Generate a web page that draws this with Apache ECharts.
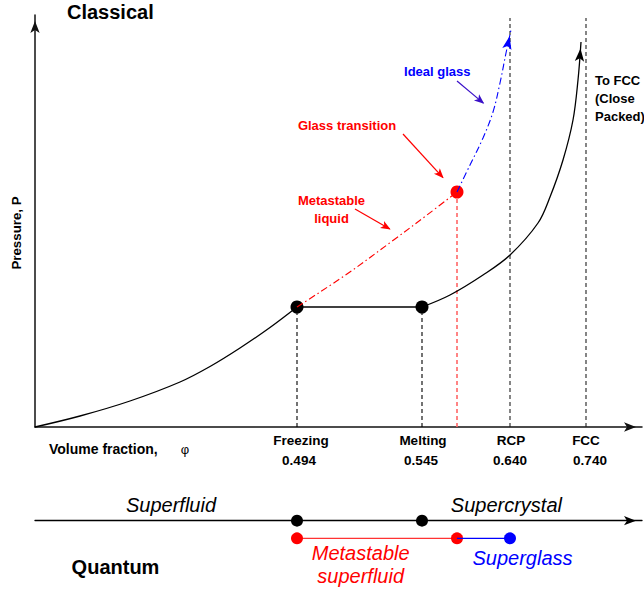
<!DOCTYPE html>
<html><head><meta charset="utf-8">
<script src="https://cdn.jsdelivr.net/npm/echarts@6/dist/echarts.min.js"></script>
<style>html,body{margin:0;padding:0;background:#fff}#c{width:644px;height:591px}</style>
</head><body><div id="c"></div>
<script>
// Schematic units: x = position along the volume-fraction axis, y = pressure (arbitrary units)
const tickNames = ['Freezing', 'Melting', 'RCP', 'FCC'];
const tickValues = ['0.494', '0.545', '0.640', '0.740'];
const tickX = [262, 387, 475, 551];
const glassX = 422;
const glassP = 235;
const coexistP = 120;
const dashTop = 409;
const liquidBranch = [[0,0],[45,11],[95,26],[145,45],[175,60.5],[205,79],[235,99.5],[262,120]];
const coexistence = [[262,120],[387,120]];
const crystalBranch = [[387,120],[415,132],[448,152],[475,172],[503,204],[515,230],[528,267],[538,307],[543,347],[546,385]];
const metastableLiquid = [[262,120],[312,153],[360,188],[392,212],[422,235]];
const idealGlass = [[422,235],[435,262],[448,289],[458,315],[465,344],[471,374],[476,397]];
const arrowGlassTransition = [[368,293],[412,245]];
const arrowMetastable = [[320,218],[360,195]];
const arrowIdeal = [[422,346],[453,320]];
// Quantum line: level 0 = main line, level -1 = lower row
const quantumBlack = [262, 387];
const quantumRed = [262, 422];
const quantumBlue = [422, 475];

const chart = echarts.init(document.getElementById('c'), null, {renderer: 'svg'});
const FONT = '"Liberation Sans", Arial, Helvetica, sans-serif';

function arrowHead(pts, color, w, h, xi) {
  const a = pts[pts.length - 2], b = pts[pts.length - 1];
  const dx = b[0] - a[0], dy = b[1] - a[1], L = Math.hypot(dx, dy);
  return {type: 'scatter', xAxisIndex: xi || 0, yAxisIndex: xi || 0, data: [b], symbol: 'arrow', symbolSize: [w, h],
    symbolRotate: -Math.atan2(dx, dy) * 180 / Math.PI,
    symbolOffset: [-dx / L * h / 2, dy / L * h / 2],
    itemStyle: {color: color, opacity: 1}, z: 8, silent: true, clip: false};
}
function lineS(data, color, width, type, smooth, z) {
  return {type: 'line', data: data, symbol: 'none', smooth: smooth || false,
    lineStyle: {color: color, width: width, type: type || 'solid'}, z: z || 3, silent: true, clip: false};
}
function dots(data, color, size, z, xi) {
  return {type: 'scatter', xAxisIndex: xi || 0, yAxisIndex: xi || 0, data: data, symbol: 'circle', symbolSize: size,
    itemStyle: {color: color, opacity: 1}, z: z, silent: true, clip: false};
}

const series = [];
tickX.forEach((x, i) => {
  series.push(lineS([[x, 0], [x, i < 2 ? coexistP : dashTop]], i < 2 ? '#000' : '#222', 1.1, [4, 3], false, 2));
});
series.push(lineS([[glassX, 0], [glassX, glassP]], '#ff6666', 1.6, [4, 3], false, 2));
series.push(lineS(liquidBranch, '#000', 1.3, 'solid', 0.35, 3));
series.push(lineS(coexistence, '#000', 1.3, 'solid', false, 3));
series.push(lineS(crystalBranch, '#000', 1.3, 'solid', 0.35, 3));
series.push(arrowHead(crystalBranch, '#000', 7, 13));
series.push(dots(tickX.slice(0, 2).map(x => [x, coexistP]), '#000', 13, 5));
series.push(dots([[glassX, glassP]], '#ff0000', 13, 5));
series.push(lineS(metastableLiquid, '#ff0000', 1.1, [7, 3, 1.5, 3], 0.35, 6));
series.push(lineS(idealGlass, '#0000ff', 1.1, [7, 3, 1.5, 3], 0.35, 6));
series.push(arrowHead(idealGlass, '#0000ff', 7, 13));
[[arrowGlassTransition, '#ff0000'], [arrowMetastable, '#ff0000'], [arrowIdeal, '#3a10c8']].forEach(p => {
  const pts = p[0];
  const a = pts[0], b = pts[1], L = Math.hypot(b[0] - a[0], b[1] - a[1]);
  const shaftEnd = [b[0] - (b[0] - a[0]) / L * 6, b[1] - (b[1] - a[1]) / L * 6];
  series.push(lineS([a, shaftEnd], p[1], 1.2, 'solid', false, 7));
  series.push(arrowHead(pts, p[1], 6, 10));
});
// Quantum row
series.push({type: 'line', xAxisIndex: 1, yAxisIndex: 1, data: quantumRed.map(x => [x, -1]), symbol: 'none',
  lineStyle: {color: '#ff3333', width: 1.2}, z: 3, silent: true, clip: false});
series.push(dots(quantumRed.map(x => [x, -1]), '#ff0000', 12, 4, 1));
series.push({type: 'line', xAxisIndex: 1, yAxisIndex: 1, data: quantumBlue.map(x => [x, -1]), symbol: 'none',
  lineStyle: {color: '#0000ff', width: 1.2}, z: 5, silent: true, clip: false});
series.push(dots([[quantumBlue[1], -1]], '#0000ff', 12, 6, 1));
series.push(dots(quantumBlack.map(x => [x, 0]), '#000', 12, 6, 1));

const axisCommon = {axisTick: {show: false}, axisLabel: {show: false}, splitLine: {show: false}};
chart.setOption({
  animation: false,
  backgroundColor: '#fff',
  grid: [
    {left: 35, right: 2, top: 15, bottom: 164},
    {left: 35, right: 2, top: 503, height: 53}
  ],
  xAxis: [
    Object.assign({type: 'value', gridIndex: 0, min: 0, max: 607,
      axisLine: {show: true, onZero: true, symbol: ['none', 'arrow'], symbolSize: [7, 12], symbolOffset: [0, -6],
        lineStyle: {color: '#111', width: 1.5}}}, axisCommon),
    Object.assign({type: 'value', gridIndex: 1, min: 0, max: 607,
      axisLine: {show: true, onZero: true, symbol: ['none', 'arrow'], symbolSize: [7, 12], symbolOffset: [0, -6],
        lineStyle: {color: '#000', width: 1.3}}}, axisCommon)
  ],
  yAxis: [
    Object.assign({type: 'value', gridIndex: 0, min: 0, max: 412,
      axisLine: {show: true, onZero: true, symbol: ['none', 'arrow'], symbolSize: [7, 12], symbolOffset: [0, -6],
        lineStyle: {color: '#111', width: 1.5}}}, axisCommon),
    Object.assign({type: 'value', gridIndex: 1, min: -2, max: 1, show: false}, axisCommon)
  ],
  series: series
});

function px(x, y) { return chart.convertToPixel({xAxisIndex: 0, yAxisIndex: 0}, [x, y]); }
function txt(text, x, y, opts) {
  return {type: 'text', x: x, y: y, rotation: opts.rotation || 0, z: 100, silent: true,
    style: {text: text, fill: opts.color || '#000', align: opts.align || 'center', verticalAlign: 'middle',
      fontFamily: opts.family || FONT, fontSize: opts.size || 13.5, fontWeight: opts.weight || 'bold',
      fontStyle: opts.style || 'normal', lineHeight: opts.lh || undefined}};
}
const nameOff = [4, 1, 1, 0];
const valOff = [2, -1, 0, 4];
const graphics = [];
tickX.forEach((x, i) => {
  const p = px(x, 0);
  graphics.push(txt(tickNames[i], p[0] + nameOff[i], 440, {}));
  graphics.push(txt(tickValues[i], p[0] + valOff[i], 460, {}));
});
graphics.push(txt('Classical', 67, 12, {align: 'left', size: 20}));
graphics.push(txt('Pressure, P', 16.5, 233, {rotation: Math.PI / 2, size: 13.3}));
graphics.push(txt('Volume fraction,', 49, 449, {align: 'left', size: 14}));
graphics.push(txt('\u03C6', 185, 449, {weight: 'normal', size: 13}));
graphics.push(txt('Ideal glass', 437.3, 71.7, {color: '#0000ff', size: 13}));
graphics.push(txt('Glass transition', 347, 125, {color: '#ff0000', size: 13}));
graphics.push(txt('Metastable\nliquid', 331.5, 209.3, {color: '#ff0000', lh: 17.5, size: 13}));
graphics.push(txt('To FCC\n(Close\nPacked)', 595, 98.4, {align: 'left', lh: 18.3, size: 13}));
graphics.push(txt('Superfluid', 171, 505, {weight: 'normal', style: 'italic', size: 20}));
graphics.push(txt('Supercrystal', 506.4, 505, {weight: 'normal', style: 'italic', size: 20}));
graphics.push(txt('Quantum', 115.5, 567, {size: 20}));
graphics.push(txt('Metastable\nsuperfluid', 360.7, 564.7, {weight: 'normal', style: 'italic', size: 20, color: '#ff0000', lh: 22.7}));
graphics.push(txt('Superglass', 522.5, 558.3, {weight: 'normal', style: 'italic', size: 20, color: '#0000ff'}));
chart.setOption({graphic: graphics});
</script></body></html>
